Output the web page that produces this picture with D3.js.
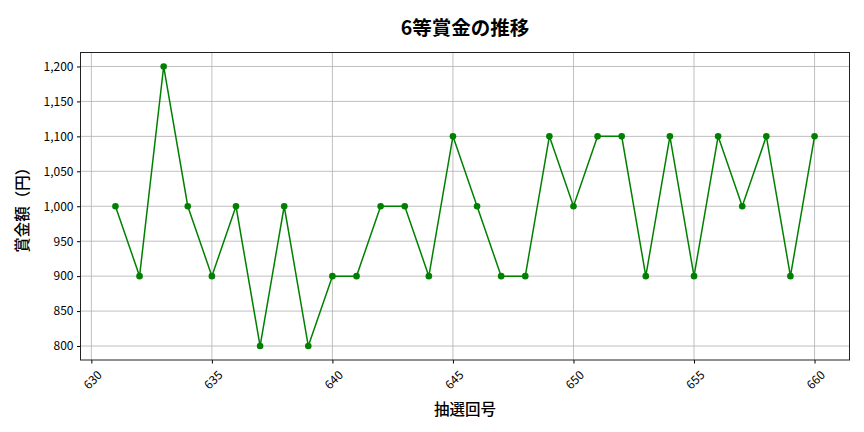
<!DOCTYPE html>
<html>
<head>
<meta charset="utf-8">
<script src="https://cdn.jsdelivr.net/npm/d3@7"></script>
<style>
  body { margin: 0; background: #fff; }
  svg text { font-family: "Noto Sans CJK JP", "Noto Sans", sans-serif; fill: #000; }
</style>
</head>
<body>
<svg id="chart" width="864" height="432"></svg>
<script>
// draw numbers and prize values
const draws = [631, 632, 633, 634, 635, 636, 637, 638, 639, 640,
               641, 642, 643, 644, 645, 646, 647, 648, 649, 650,
               651, 652, 653, 654, 655, 656, 657, 658, 659, 660];
const prizes = [1000, 900, 1200, 1000, 900, 1000, 800, 1000, 800, 900,
                900, 1000, 1000, 900, 1100, 1000, 900, 900, 1100, 1000,
                1100, 1100, 900, 1100, 900, 1100, 1000, 1100, 900, 1100];
const xTicks = [630, 635, 640, 645, 650, 655, 660];
const yTicks = [800, 850, 900, 950, 1000, 1050, 1100, 1150, 1200];

const titleText = "6等賞金の推移";
const xLabel = "抽選回号";
const yLabel = "賞金額（円）";

const margin = { top: 52.5, right: 14.5, bottom: 72, left: 80.5 };
const width = 864, height = 432;

const svg = d3.select('#chart');

// matplotlib style 5% padding
const xPad = (d3.max(draws) - d3.min(draws)) * 0.05;
const yPad = (d3.max(prizes) - d3.min(prizes)) * 0.05;

const x = d3.scaleLinear()
    .domain([d3.min(draws) - xPad, d3.max(draws) + xPad])
    .range([margin.left, width - margin.right]);
const y = d3.scaleLinear()
    .domain([d3.min(prizes) - yPad, d3.max(prizes) + yPad])
    .range([height - margin.bottom, margin.top]);

const plotBottom = height - margin.bottom;
const fmt = d3.format(",");

// grid lines
const grid = svg.append("g").attr("stroke", "#b0b0b0").attr("stroke-width", 0.8);
grid.selectAll(".gx").data(xTicks).enter().append("line")
    .attr("x1", d => x(d)).attr("x2", d => x(d))
    .attr("y1", margin.top).attr("y2", plotBottom);
grid.selectAll(".gy").data(yTicks).enter().append("line")
    .attr("x1", margin.left).attr("x2", width - margin.right)
    .attr("y1", d => y(d)).attr("y2", d => y(d));

// y axis
const yAxis = svg.append("g")
    .attr("transform", `translate(${margin.left},0)`)
    .call(d3.axisLeft(y).tickValues(yTicks).tickFormat(fmt).tickSize(3.5).tickPadding(3.5));
yAxis.select(".domain").remove();
yAxis.selectAll("text").style("font-size", "12px")
    .style("font-family", "'Noto Sans CJK JP', sans-serif");

// x axis
const xAxis = svg.append("g")
    .attr("transform", `translate(0,${plotBottom})`)
    .call(d3.axisBottom(x).tickValues(xTicks).tickFormat(d3.format("d")).tickSize(3.5));
xAxis.select(".domain").remove();
xAxis.selectAll("text")
    .attr("y", 0).attr("dy", null)
    .attr("text-anchor", "middle")
    .attr("dominant-baseline", "central")
    .attr("transform", "translate(0,19) rotate(-45)")
    .style("font-size", "12px")
    .style("font-family", "'Noto Sans CJK JP', sans-serif");

// frame
svg.append("rect")
    .attr("x", margin.left).attr("y", margin.top)
    .attr("width", width - margin.left - margin.right)
    .attr("height", plotBottom - margin.top)
    .attr("fill", "none").attr("stroke", "#222").attr("stroke-width", 1);

// line and markers
const series = draws.map((d, i) => ({ draw: d, prize: prizes[i] }));

svg.append("path")
    .datum(series)
    .attr("fill", "none")
    .attr("stroke", "#008000")
    .attr("stroke-width", 1.5)
    .attr("d", d3.line().x(d => x(d.draw)).y(d => y(d.prize)));

svg.append("g").selectAll("circle")
    .data(series)
    .enter().append("circle")
    .attr("cx", d => x(d.draw))
    .attr("cy", d => y(d.prize))
    .attr("r", 3.3)
    .attr("fill", "#008000");

// title and labels
svg.append("text")
    .attr("x", (margin.left + width - margin.right) / 2)
    .attr("y", 26)
    .attr("text-anchor", "middle")
    .attr("dominant-baseline", "central")
    .style("font-size", "19.5px")
    .style("font-weight", "bold")
    .text(titleText);

svg.append("text")
    .attr("x", (margin.left + width - margin.right) / 2)
    .attr("y", 408)
    .attr("text-anchor", "middle")
    .attr("dominant-baseline", "central")
    .style("font-size", "15.5px")
    .style("font-weight", "500")
    .text(xLabel);

svg.append("text")
    .attr("transform", `translate(21,${(margin.top + plotBottom) / 2}) rotate(-90)`)
    .attr("text-anchor", "middle")
    .attr("dominant-baseline", "central")
    .style("font-size", "15.5px")
    .style("font-weight", "500")
    .text(yLabel);
</script>
</body>
</html>
